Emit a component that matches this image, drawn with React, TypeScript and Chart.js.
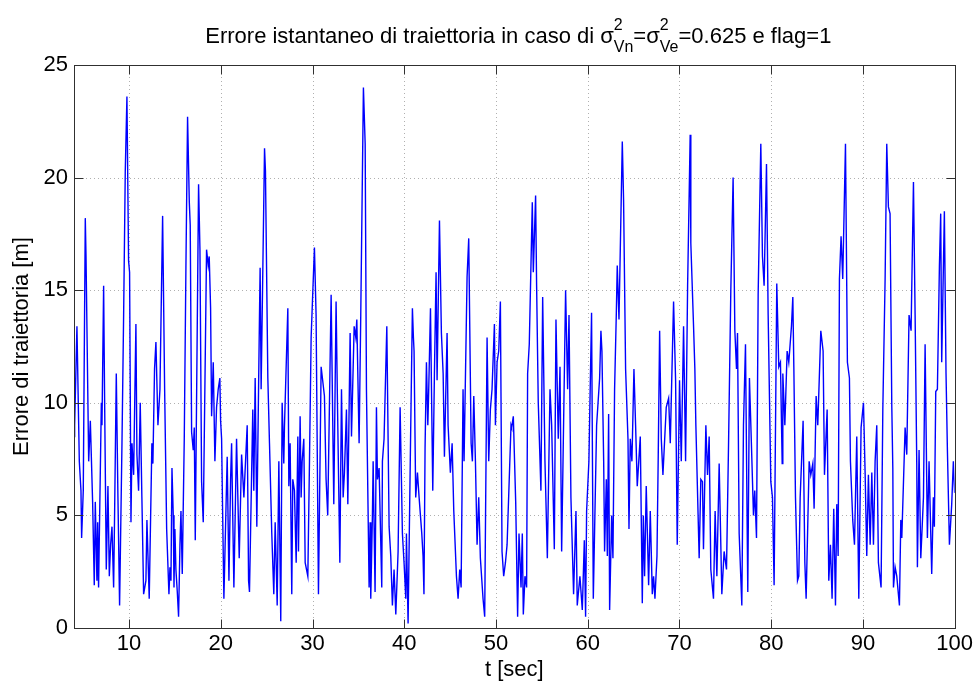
import React, { useEffect, useRef } from "react";
import { Chart, registerables } from "chart.js";

Chart.register(...registerables);

// ---- data ----
const times: number[] = [
  4.0, 4.07, 4.32, 4.58, 4.76, 4.83, 5.01, 5.23, 5.31, 5.6, 5.78, 6.03, 6.21, 6.32, 6.5, 6.58, 6.68, 6.98, 7.05, 7.23,
  7.34, 7.52, 7.7, 7.85, 7.99, 8.14, 8.32, 8.43, 8.61, 8.79, 8.97, 9.23, 9.41, 9.59, 9.77, 9.95, 10.06, 10.21, 10.32, 10.5,
  10.75, 10.86, 11.04, 11.22, 11.4, 11.59, 11.84, 11.95, 12.2, 12.49, 12.6, 12.78, 12.93, 13.15, 13.37, 13.66, 13.88, 14.1, 14.35, 14.46,
  14.57, 14.68, 14.82, 14.9, 15.0, 15.11, 15.26, 15.4, 15.55, 15.66, 15.8, 16.02, 16.2, 16.38, 16.57, 16.67, 16.82, 17.0, 17.11, 17.22,
  17.58, 17.73, 17.91, 18.09, 18.45, 18.63, 18.74, 18.89, 19.0, 19.18, 19.36, 19.54, 19.72, 19.9, 19.98, 20.09, 20.2, 20.34, 20.56, 20.7,
  20.89, 21.07, 21.18, 21.43, 21.72, 22.01, 22.27, 22.52, 22.88, 23.03, 23.13, 23.49, 23.6, 23.75, 23.93, 24.22, 24.29, 24.4, 24.77, 24.87,
  25.13, 25.31, 25.56, 25.78, 25.93, 26.15, 26.33, 26.54, 26.69, 26.87, 26.94, 27.31, 27.42, 27.56, 27.74, 27.85, 28.03, 28.22, 28.4, 28.47,
  28.65, 28.76, 28.87, 29.05, 29.2, 29.49, 29.67, 29.85, 30.21, 30.39, 30.65, 30.94, 31.3, 31.48, 31.66, 32.03, 32.32, 32.57, 32.72, 32.98,
  33.16, 33.34, 33.48, 33.7, 33.85, 34.1, 34.25, 34.54, 34.72, 34.83, 35.08, 35.26, 35.55, 35.74, 35.88, 36.17, 36.28, 36.35, 36.53, 36.61,
  36.82, 36.97, 37.08, 37.26, 37.55, 37.62, 37.8, 38.1, 38.35, 38.53, 38.71, 38.89, 39.08, 39.33, 39.55, 39.8, 39.98, 40.17, 40.24, 40.42,
  40.71, 40.89, 41.0, 41.07, 41.25, 41.44, 41.62, 41.91, 42.05, 42.15, 42.27, 42.42, 42.57, 42.67, 42.86, 43.11, 43.29, 43.47, 43.58, 43.84,
  44.05, 44.24, 44.38, 44.67, 44.78, 45.03, 45.22, 45.4, 45.69, 45.87, 46.05, 46.2, 46.41, 46.52, 46.85, 47.03, 47.29, 47.43, 47.58, 47.76,
  47.94, 48.12, 48.3, 48.59, 48.77, 49.03, 49.21, 49.39, 49.57, 49.83, 49.94, 50.12, 50.3, 50.48, 50.66, 50.84, 51.03, 51.21, 51.64, 51.71,
  51.89, 52.15, 52.36, 52.51, 52.73, 52.87, 52.98, 53.16, 53.34, 53.45, 53.63, 53.96, 54.07, 54.32, 54.43, 54.61, 54.9, 55.09, 55.34, 55.6,
  55.89, 56.07, 56.36, 56.54, 56.79, 56.98, 57.16, 57.59, 57.81, 57.96, 58.17, 58.46, 58.72, 58.86, 59.15, 59.41, 59.63, 59.77, 59.88, 60.13,
  60.42, 60.61, 60.97, 61.3, 61.44, 61.55, 61.74, 61.84, 62.03, 62.14, 62.28, 62.39, 62.61, 62.75, 62.93, 63.12, 63.22, 63.41, 63.77, 63.91,
  64.13, 64.39, 64.5, 64.64, 64.82, 65.04, 65.22, 65.4, 65.73, 65.95, 66.06, 66.2, 66.38, 66.64, 66.82, 67.04, 67.18, 67.33, 67.55, 67.69,
  67.84, 68.02, 68.2, 68.56, 68.82, 69.0, 69.36, 69.58, 69.76, 70.01, 70.2, 70.45, 70.67, 70.89, 71.17, 71.24, 71.53, 71.68, 71.79, 72.15,
  72.33, 72.51, 72.62, 72.88, 73.06, 73.24, 73.42, 73.71, 73.89, 74.08, 74.33, 74.62, 74.87, 75.13, 75.35, 75.6, 75.85, 76.04, 76.22, 76.33,
  76.51, 76.8, 76.98, 77.2, 77.45, 77.63, 77.85, 78.07, 78.21, 78.4, 78.58, 78.87, 79.05, 79.23, 79.49, 79.67, 79.96, 80.14, 80.32, 80.61,
  80.83, 81.01, 81.2, 81.27, 81.49, 81.74, 81.92, 82.21, 82.36, 82.47, 82.65, 82.87, 83.01, 83.16, 83.48, 83.67, 83.81, 84.14, 84.32, 84.54,
  84.68, 84.9, 85.08, 85.41, 85.66, 85.81, 86.1, 86.28, 86.46, 86.64, 86.82, 87.01, 87.15, 87.3, 87.44, 87.62, 87.8, 88.1, 88.31, 88.53,
  88.64, 88.89, 89.08, 89.33, 89.55, 89.8, 90.06, 90.24, 90.42, 90.6, 90.79, 90.97, 91.15, 91.33, 91.51, 91.69, 91.98, 92.17, 92.42, 92.6,
  92.78, 92.96, 93.15, 93.26, 93.33, 93.51, 93.69, 93.98, 94.13, 94.24, 94.6, 94.78, 95.03, 95.25, 95.51, 95.69, 95.87, 95.94, 96.12, 96.31,
  96.6, 96.78, 97.03, 97.21, 97.5, 97.68, 97.79, 97.94, 98.12, 98.34, 98.48, 98.59, 98.88, 99.06, 99.21, 99.43, 99.68, 99.86, 100.0,
];

const errors: number[] = [
  8.5, 9.0, 13.4, 7.4, 6.1, 4.0, 6.1, 18.2, 16.5, 7.4, 9.2, 5.6, 1.9, 5.6, 2.1, 4.7, 1.8, 10.0, 9.0, 15.2,
  10.0, 2.6, 6.3, 2.3, 3.7, 4.5, 1.8, 5.2, 11.3, 5.8, 1.0, 8.2, 13.9, 20.3, 23.6, 16.3, 15.8, 4.7, 8.2, 6.8,
  13.5, 7.7, 6.1, 10.0, 5.8, 1.5, 2.1, 4.8, 1.3, 8.2, 7.3, 11.5, 12.7, 9.0, 10.6, 18.3, 10.6, 4.4, 1.5, 2.7,
  2.1, 7.1, 5.0, 1.8, 4.4, 2.6, 1.6, 0.5, 3.7, 5.2, 2.4, 8.4, 16.0, 22.7, 18.9, 17.9, 8.7, 7.9, 8.9, 3.9,
  19.7, 16.8, 6.5, 4.7, 16.8, 16.1, 16.5, 14.2, 9.4, 11.8, 7.4, 9.8, 10.6, 11.1, 9.2, 8.4, 5.2, 1.3, 5.2, 7.6,
  2.1, 6.6, 8.2, 1.8, 8.4, 3.1, 7.7, 5.8, 9.0, 2.1, 1.6, 9.7, 6.1, 11.1, 4.5, 13.9, 16.0, 10.6, 21.3, 20.3,
  11.1, 8.2, 4.2, 1.5, 4.7, 1.0, 7.4, 0.3, 10.0, 7.3, 8.9, 14.2, 6.3, 8.2, 1.5, 6.6, 6.1, 2.9, 8.5, 3.4,
  9.4, 5.8, 7.4, 8.4, 2.9, 2.3, 7.4, 12.9, 16.9, 13.9, 1.5, 11.6, 10.3, 6.6, 5.0, 14.8, 5.5, 14.5, 10.0, 2.9,
  10.6, 5.8, 6.9, 9.7, 5.5, 13.1, 8.5, 13.4, 12.9, 13.7, 8.2, 13.9, 24.0, 21.5, 10.6, 1.8, 4.7, 1.3, 5.0, 7.4,
  1.6, 9.8, 6.6, 7.1, 1.8, 7.4, 8.4, 13.4, 4.5, 3.2, 1.0, 2.6, 0.6, 3.4, 9.8, 4.2, 2.9, 1.3, 4.2, 0.2,
  9.0, 14.2, 12.9, 12.3, 5.8, 6.9, 5.8, 4.2, 3.2, 1.5, 8.0, 11.8, 9.0, 10.6, 14.2, 6.1, 11.3, 15.8, 11.0, 18.1,
  13.1, 11.3, 7.6, 13.1, 9.0, 6.9, 8.2, 5.2, 2.3, 1.3, 2.6, 1.8, 10.6, 7.4, 15.6, 17.3, 8.2, 7.4, 10.3, 7.4,
  3.7, 5.8, 3.1, 1.3, 0.5, 12.9, 7.4, 9.7, 10.6, 13.5, 9.0, 11.8, 12.3, 14.5, 3.4, 2.3, 2.9, 3.7, 9.0, 8.9,
  9.4, 5.6, 0.5, 4.2, 1.8, 4.2, 0.6, 2.3, 1.8, 11.3, 12.6, 18.9, 15.8, 19.2, 15.2, 10.0, 6.1, 14.7, 7.4, 3.1,
  10.6, 9.0, 3.5, 13.7, 8.4, 11.6, 3.4, 15.0, 10.6, 13.9, 5.8, 1.5, 5.2, 1.0, 2.3, 0.8, 3.9, 0.5, 5.2, 7.4,
  14.0, 1.3, 9.0, 11.1, 13.2, 12.3, 7.4, 3.4, 6.6, 3.2, 9.5, 0.8, 5.0, 3.1, 10.6, 14.0, 16.1, 13.7, 21.6, 19.0,
  11.5, 8.4, 4.4, 8.4, 7.4, 11.5, 9.0, 6.3, 8.5, 1.1, 5.0, 2.3, 6.3, 1.9, 5.2, 1.5, 2.3, 1.3, 3.2, 7.7,
  13.2, 8.4, 6.8, 9.8, 10.2, 8.2, 14.5, 11.0, 3.7, 11.0, 7.4, 13.4, 7.4, 15.2, 21.9, 17.1, 13.5, 11.5, 9.0, 3.1,
  6.6, 6.5, 3.5, 9.0, 6.8, 8.5, 2.6, 1.3, 5.2, 2.3, 7.3, 1.5, 3.4, 2.6, 8.1, 15.0, 20.0, 13.2, 11.5, 13.1,
  4.2, 1.0, 9.0, 12.6, 1.6, 11.1, 8.1, 5.0, 6.1, 4.0, 14.8, 21.5, 16.5, 15.2, 20.6, 13.9, 6.5, 5.8, 1.9, 15.3,
  11.6, 11.8, 7.3, 11.3, 9.0, 12.3, 11.8, 13.4, 14.7, 11.6, 5.8, 2.1, 2.3, 5.8, 9.2, 2.9, 1.3, 7.4, 6.8, 7.3,
  5.3, 10.3, 9.0, 13.2, 12.3, 6.8, 9.7, 2.1, 3.7, 1.3, 5.3, 1.0, 5.5, 3.2, 15.5, 17.4, 15.5, 21.5, 11.8, 11.1,
  7.4, 4.8, 3.7, 8.5, 1.3, 8.9, 10.0, 6.9, 3.2, 6.8, 3.7, 6.9, 3.7, 7.4, 9.0, 2.9, 1.8, 9.7, 15.5, 21.5,
  18.7, 18.4, 9.8, 7.1, 1.8, 2.7, 2.3, 1.0, 4.8, 4.0, 8.9, 7.7, 13.9, 13.2, 19.8, 13.9, 7.3, 2.7, 7.9, 3.1,
  5.8, 12.6, 4.0, 7.4, 2.4, 5.8, 4.5, 10.5, 10.6, 16.1, 18.4, 11.8, 18.5, 11.3, 7.9, 3.7, 5.5, 7.4, 6.0,
];

const xTicks: number[] = [10, 20, 30, 40, 50, 60, 70, 80, 90, 100];
const yTicks: number[] = [0, 5, 10, 15, 20, 25];

const xAxisLabel = "t [sec]";
const yAxisLabel = "Errore di traiettoria [m]";
const titleLead = "Errore istantaneo di traiettoria in caso di ";
const titleSigma = "\u03C3";
const titleSup = "2";
const titleSubN = "Vn";
const titleSubE = "Ve";
const titleEq = "=";
const titleTail = "=0.625 e flag=1";

const FONT = '"Liberation Sans", Arial, Helvetica, sans-serif';

const matlabAxes = {
  id: "matlabAxes",
  beforeDatasetsDraw(chart: any) {
    const { ctx, chartArea: a, scales } = chart;
    const x = scales.x;
    const y = scales.y;
    ctx.save();
    ctx.strokeStyle = "#b0b0b0";
    ctx.lineWidth = 1;
    ctx.setLineDash([1, 3]);
    for (const t of x.ticks) {
      const px = Math.round(x.getPixelForValue(t.value)) + 0.5;
      ctx.beginPath();
      ctx.moveTo(px, a.top);
      ctx.lineTo(px, a.bottom);
      ctx.stroke();
    }
    for (const t of y.ticks) {
      const py = Math.round(y.getPixelForValue(t.value)) + 0.5;
      ctx.beginPath();
      ctx.moveTo(a.left, py);
      ctx.lineTo(a.right, py);
      ctx.stroke();
    }
    ctx.restore();
  },
  afterDatasetsDraw(chart: any) {
    const { ctx, chartArea: a, scales } = chart;
    const x = scales.x;
    const y = scales.y;
    const L = Math.round(a.left) + 0.5;
    const R = Math.round(a.right) + 0.5;
    const T = Math.round(a.top) + 0.5;
    const B = Math.round(a.bottom) + 0.5;
    const tl = 9;
    ctx.save();
    ctx.strokeStyle = "#303030";
    ctx.lineWidth = 1;
    ctx.setLineDash([]);
    ctx.strokeRect(L, T, R - L, B - T);
    ctx.beginPath();
    for (const t of x.ticks) {
      const px = Math.round(x.getPixelForValue(t.value)) + 0.5;
      ctx.moveTo(px, B);
      ctx.lineTo(px, B - tl);
      ctx.moveTo(px, T);
      ctx.lineTo(px, T + tl);
    }
    for (const t of y.ticks) {
      const py = Math.round(y.getPixelForValue(t.value)) + 0.5;
      ctx.moveTo(L, py);
      ctx.lineTo(L + tl, py);
      ctx.moveTo(R, py);
      ctx.lineTo(R - tl, py);
    }
    ctx.stroke();
    ctx.restore();
  },
  afterDraw(chart: any) {
    const { ctx, chartArea: a } = chart;
    const base = 22;
    const small = 16;
    const mainFont = `${base}px ${FONT}`;
    const scriptFont = `${small}px ${FONT}`;
    type Seg = { text?: string; sup?: string; sub?: string };
    const segs: Seg[] = [
      { text: titleLead },
      { text: titleSigma },
      { sup: titleSup, sub: titleSubN },
      { text: titleEq },
      { text: titleSigma },
      { sup: titleSup, sub: titleSubE },
      { text: titleTail },
    ];
    ctx.save();
    const widths = segs.map((s) => {
      if (s.text !== undefined) {
        ctx.font = mainFont;
        return ctx.measureText(s.text).width;
      }
      ctx.font = scriptFont;
      return Math.max(ctx.measureText(s.sup || "").width, ctx.measureText(s.sub || "").width);
    });
    const total = widths.reduce((p, c) => p + c, 0);
    const cx = (a.left + a.right) / 2 + 4;
    let xPos = cx - total / 2;
    const baseY = 43;
    ctx.fillStyle = "#000";
    ctx.textAlign = "left";
    ctx.textBaseline = "alphabetic";
    segs.forEach((s, i) => {
      if (s.text !== undefined) {
        ctx.font = mainFont;
        ctx.fillText(s.text, xPos, baseY);
      } else {
        ctx.font = scriptFont;
        ctx.fillText(s.sup || "", xPos, baseY - 13);
        ctx.fillText(s.sub || "", xPos, baseY + 9);
      }
      xPos += widths[i];
    });
    ctx.restore();
  },
};

export default function App() {
  const canvasRef = useRef<HTMLCanvasElement | null>(null);

  useEffect(() => {
    document.body.style.margin = "0";
    const canvas = canvasRef.current;
    if (!canvas) return;
    const points = times.map((t, i) => ({ x: t, y: errors[i] }));
    const chart = new Chart(canvas, {
      type: "line",
      data: {
        datasets: [
          {
            data: points,
            borderColor: "#0000ff",
            borderWidth: 1.4,
            pointRadius: 0,
            tension: 0,
            fill: false,
          },
        ],
      },
      options: {
        animation: false,
        responsive: true,
        maintainAspectRatio: false,
        parsing: false as any,
        normalized: true,
        layout: { padding: { top: 65, right: 21, left: 0, bottom: 0 } },
        plugins: {
          legend: { display: false },
          title: { display: false },
          tooltip: { enabled: false },
        },
        scales: {
          x: {
            type: "linear",
            min: 4,
            max: 100,
            afterBuildTicks: (scale: any) => {
              scale.ticks = xTicks.map((v) => ({ value: v }));
            },
            afterFit: (scale: any) => {
              scale.height = 59;
            },
            grid: { display: false, drawTicks: false },
            border: { display: false },
            ticks: {
              color: "#000",
              padding: 3,
              maxRotation: 0,
              autoSkip: false,
              font: { family: FONT, size: 22 },
              callback: (v: any) => String(v),
            },
            title: {
              display: true,
              text: xAxisLabel,
              color: "#000",
              font: { family: FONT, size: 22 },
              padding: { top: 0, bottom: 4 },
            },
          },
          y: {
            type: "linear",
            min: 0,
            max: 25,
            afterBuildTicks: (scale: any) => {
              scale.ticks = yTicks.map((v) => ({ value: v }));
            },
            afterFit: (scale: any) => {
              scale.width = 74;
            },
            grid: { display: false, drawTicks: false },
            border: { display: false },
            ticks: {
              color: "#000",
              padding: 6,
              autoSkip: false,
              font: { family: FONT, size: 22 },
              callback: (v: any) => String(v),
            },
            title: {
              display: true,
              text: yAxisLabel,
              color: "#000",
              font: { family: FONT, size: 22 },
              padding: { top: 9, bottom: 0 },
            },
          },
        },
      },
      plugins: [matlabAxes],
    });
    return () => {
      chart.destroy();
    };
  }, []);

  return (
    <div style={{ position: "relative", width: "976px", height: "687px" }}>
      <canvas ref={canvasRef} />
    </div>
  );
}
